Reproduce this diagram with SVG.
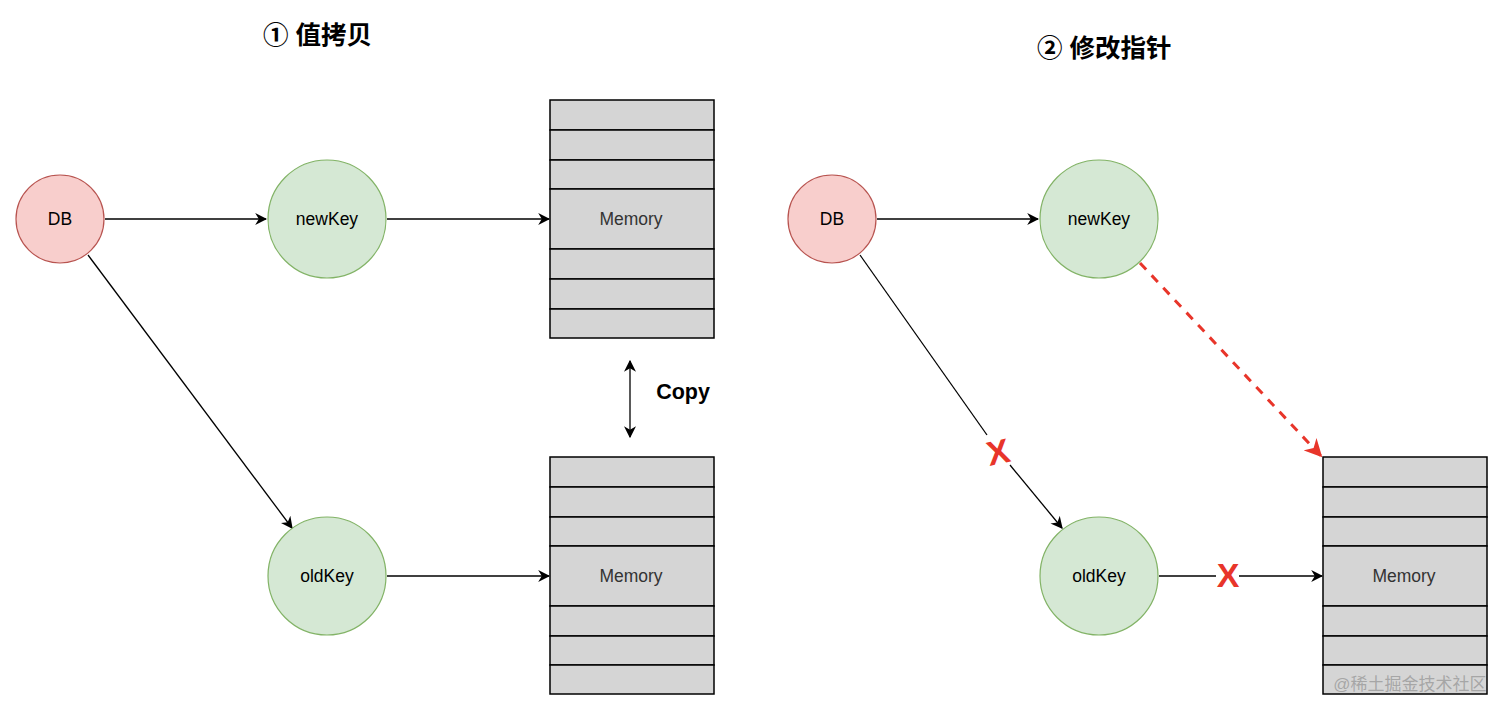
<svg xmlns="http://www.w3.org/2000/svg" width="1512" height="713" viewBox="0 0 1512 713">
<style>
.db{fill:#f8cecc;stroke:#b85450;stroke-width:1.2}
.key{fill:#d5e8d4;stroke:#82b366;stroke-width:1.2}
.cell{fill:#d5d5d5;stroke:#000;stroke-width:1.5}
.lbl{font-family:"Liberation Sans",Arial,sans-serif;font-size:17.5px;fill:#000;text-anchor:middle;dominant-baseline:central}
.mem{font-family:"Liberation Sans",Arial,sans-serif;font-size:17.5px;fill:#333;text-anchor:middle;dominant-baseline:central}
.title{font-family:"Liberation Sans","Noto Sans CJK SC",sans-serif;font-size:25.5px;font-weight:bold;fill:#000}
.edge{fill:none;stroke:#000;stroke-width:1.3}
.x{font-family:"Liberation Sans",Arial,sans-serif;font-size:34px;font-weight:bold;fill:#e8352a;text-anchor:middle;dominant-baseline:central}
</style>
<defs>
<marker id="arr" viewBox="0 0 10 10" refX="9" refY="5" markerWidth="12" markerHeight="12" markerUnits="userSpaceOnUse" orient="auto-start-reverse">
<path d="M0,0 L10,5 L0,10 L3,5 Z" fill="#000"/>
</marker>
<marker id="arrRed" viewBox="0 0 10 10" refX="9" refY="5" markerWidth="18" markerHeight="18" markerUnits="userSpaceOnUse" orient="auto">
<path d="M0,0 L10,5 L0,10 L3,5 Z" fill="#e8352a"/>
</marker>
</defs>
<rect width="1512" height="713" fill="#fff"/>

<text class="title" x="263" y="44">① 值拷贝</text>
<text class="title" x="1037" y="57">② 修改指针</text>

<g id="connectors">
<line class="edge" x1="105" y1="219" x2="266" y2="219" marker-end="url(#arr)"/>
<line class="edge" x1="387" y1="219" x2="549" y2="219" marker-end="url(#arr)"/>
<line class="edge" x1="88" y1="255" x2="292" y2="528" marker-end="url(#arr)"/>
<line class="edge" x1="387" y1="576" x2="549" y2="576" marker-end="url(#arr)"/>
<line class="edge" x1="630" y1="361" x2="630" y2="437" marker-start="url(#arr)" marker-end="url(#arr)"/>
<line class="edge" x1="877" y1="219" x2="1038" y2="219" marker-end="url(#arr)"/>
<line class="edge" x1="860" y1="255" x2="987" y2="435"/>
<line class="edge" x1="1010" y1="465" x2="1062" y2="528" marker-end="url(#arr)"/>
<line class="edge" x1="1159" y1="576" x2="1216" y2="576"/>
<line class="edge" x1="1239" y1="576" x2="1322" y2="576" marker-end="url(#arr)"/>
<line x1="1140" y1="263" x2="1321" y2="456" fill="none" stroke="#e8352a" stroke-width="3" stroke-dasharray="9,8" marker-end="url(#arrRed)"/>
</g>

<g id="label-copy"><text x="683" y="392" font-family="Liberation Sans,Arial,sans-serif" font-size="21.5" font-weight="bold" text-anchor="middle" dominant-baseline="central">Copy</text></g>
<g id="x1"><text class="x" x="998" y="452" transform="rotate(-12 998 452)">X</text></g>
<g id="x2"><text class="x" x="1228" y="575">X</text></g>

<g id="db1"><circle class="db" cx="60" cy="219" r="44"/><text class="lbl" x="60" y="219">DB</text></g>
<g id="newKey1"><circle class="key" cx="327" cy="219" r="59"/><text class="lbl" x="327" y="219">newKey</text></g>
<g id="oldKey1"><circle class="key" cx="327" cy="576" r="59"/><text class="lbl" x="327" y="576">oldKey</text></g>

<g id="mem1">
<rect class="cell" x="550" y="100" width="164" height="30"/>
<rect class="cell" x="550" y="130" width="164" height="30"/>
<rect class="cell" x="550" y="160" width="164" height="29"/>
<rect class="cell" x="550" y="189" width="164" height="60"/>
<rect class="cell" x="550" y="249" width="164" height="30"/>
<rect class="cell" x="550" y="279" width="164" height="30"/>
<rect class="cell" x="550" y="309" width="164" height="29"/>
<text class="mem" x="631" y="219">Memory</text>
</g>
<g id="mem2">
<rect class="cell" x="550" y="457" width="164" height="30"/>
<rect class="cell" x="550" y="487" width="164" height="30"/>
<rect class="cell" x="550" y="517" width="164" height="29"/>
<rect class="cell" x="550" y="546" width="164" height="60"/>
<rect class="cell" x="550" y="606" width="164" height="30"/>
<rect class="cell" x="550" y="636" width="164" height="29"/>
<rect class="cell" x="550" y="665" width="164" height="29"/>
<text class="mem" x="631" y="576">Memory</text>
</g>

<g id="db2"><circle class="db" cx="832" cy="219" r="44"/><text class="lbl" x="832" y="219">DB</text></g>
<g id="newKey2"><circle class="key" cx="1099" cy="219" r="59"/><text class="lbl" x="1099" y="219">newKey</text></g>
<g id="oldKey2"><circle class="key" cx="1099" cy="576" r="59"/><text class="lbl" x="1099" y="576">oldKey</text></g>

<g id="mem3">
<rect class="cell" x="1323" y="457" width="164" height="30"/>
<rect class="cell" x="1323" y="487" width="164" height="30"/>
<rect class="cell" x="1323" y="517" width="164" height="29"/>
<rect class="cell" x="1323" y="546" width="164" height="60"/>
<rect class="cell" x="1323" y="606" width="164" height="30"/>
<rect class="cell" x="1323" y="636" width="164" height="29"/>
<rect class="cell" x="1323" y="665" width="164" height="29"/>
<text class="mem" x="1404" y="576">Memory</text>
</g>

<text x="1410" y="684" font-family="Liberation Sans,'Noto Sans CJK SC',sans-serif" font-size="17" fill="#9a9a9a" fill-opacity="0.8" text-anchor="middle" dominant-baseline="central">@稀土掘金技术社区</text>
</svg>
